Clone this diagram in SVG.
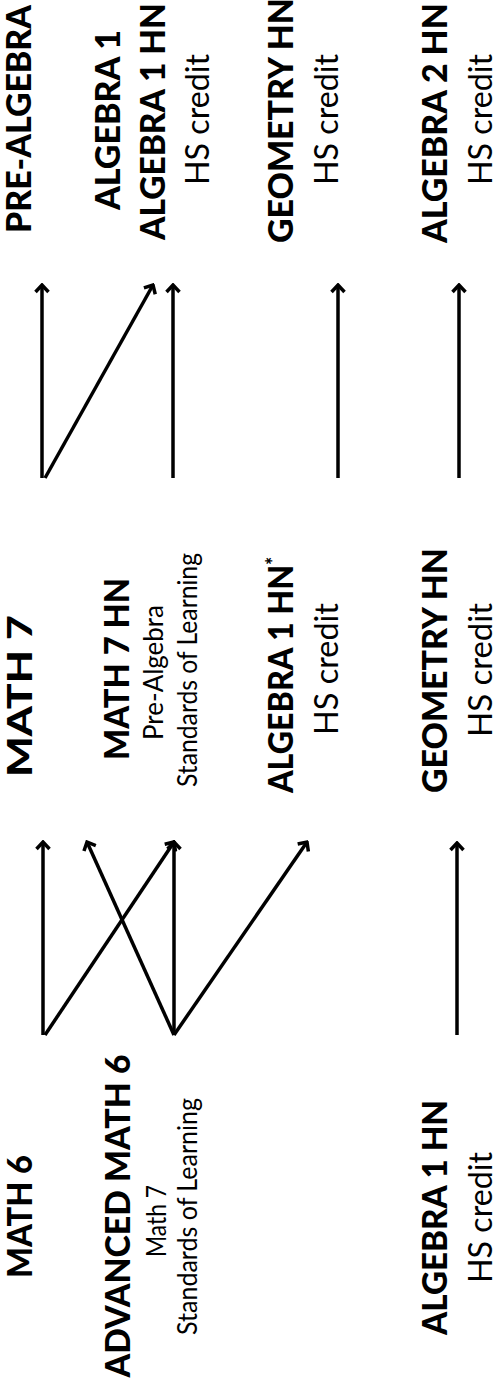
<svg xmlns="http://www.w3.org/2000/svg" width="495" height="1384" viewBox="0 0 495 1384">
<style>
text{text-anchor:middle;fill:#000;font-family:Lato,"Liberation Sans",sans-serif}
.t{font-weight:900;font-size:35px}
.s{font-weight:400;font-size:26px}
.h{font-weight:400;font-size:33px}
.c{stroke:#000;stroke-width:3.5;fill:none;marker-end:url(#ah)}
</style>
<defs>
<marker id="ah" markerUnits="userSpaceOnUse" viewBox="-10 -8 12 16" refX="0" refY="0" markerWidth="12" markerHeight="16" orient="auto">
<path d="M-7,-6.5 L0,0 L-7,6.5" fill="none" stroke="#000" stroke-width="3.5" stroke-linecap="butt" stroke-linejoin="miter"/>
</marker>
</defs>
<rect width="495" height="1384" fill="#fff"/>
<g id="math6"><text class="t" transform="translate(32,1216.5) rotate(-90)" textLength="123" lengthAdjust="spacingAndGlyphs">MATH 6</text></g>
<g id="advmath6">
<text class="t" transform="translate(130,1216) rotate(-90)" textLength="323" lengthAdjust="spacingAndGlyphs">ADVANCED MATH 6</text>
<text class="s" transform="translate(166,1221) rotate(-90)" textLength="72" lengthAdjust="spacingAndGlyphs">Math 7</text>
<text class="s" transform="translate(197,1216.5) rotate(-90)" textLength="237" lengthAdjust="spacingAndGlyphs">Standards of Learning</text>
</g>
<g id="alg1hn6">
<text class="t" transform="translate(447,1217.5) rotate(-90)" textLength="235" lengthAdjust="spacingAndGlyphs">ALGEBRA 1 HN</text>
<text class="h" transform="translate(492,1217.5) rotate(-90)" textLength="131" lengthAdjust="spacingAndGlyphs">HS credit</text>
</g>
<g id="math7"><text class="t" transform="translate(32,696) rotate(-90)" textLength="162" lengthAdjust="spacingAndGlyphs">MATH 7</text></g>
<g id="math7hn">
<text class="t" transform="translate(129,669) rotate(-90)" textLength="182" lengthAdjust="spacingAndGlyphs">MATH 7 HN</text>
<text class="s" transform="translate(163,672.5) rotate(-90)" textLength="135" lengthAdjust="spacingAndGlyphs">Pre-Algebra</text>
<text class="s" transform="translate(197,670) rotate(-90)" textLength="234" lengthAdjust="spacingAndGlyphs">Standards of Learning</text>
</g>
<g id="alg1hn7">
<text class="t" transform="translate(293,675) rotate(-90)" textLength="236" lengthAdjust="spacingAndGlyphs">ALGEBRA 1 HN<tspan font-size="20" dy="-12">*</tspan></text>
<text class="h" transform="translate(338,669) rotate(-90)" textLength="132" lengthAdjust="spacingAndGlyphs">HS credit</text>
</g>
<g id="geomhn7">
<text class="t" transform="translate(447,670.5) rotate(-90)" textLength="245" lengthAdjust="spacingAndGlyphs">GEOMETRY HN</text>
<text class="h" transform="translate(492,670) rotate(-90)" textLength="134" lengthAdjust="spacingAndGlyphs">HS credit</text>
</g>
<g id="prealg"><text class="t" transform="translate(31,119) rotate(-90)" textLength="228" lengthAdjust="spacingAndGlyphs">PRE-ALGEBRA</text></g>
<g id="alg1">
<text class="t" transform="translate(120,120) rotate(-90)" textLength="180" lengthAdjust="spacingAndGlyphs">ALGEBRA 1</text>
<text class="t" transform="translate(165,121.5) rotate(-90)" textLength="237" lengthAdjust="spacingAndGlyphs">ALGEBRA 1 HN</text>
<text class="h" transform="translate(209,119.5) rotate(-90)" textLength="131" lengthAdjust="spacingAndGlyphs">HS credit</text>
</g>
<g id="geomhn8">
<text class="t" transform="translate(293,120.5) rotate(-90)" textLength="245" lengthAdjust="spacingAndGlyphs">GEOMETRY HN</text>
<text class="h" transform="translate(338,119.5) rotate(-90)" textLength="131" lengthAdjust="spacingAndGlyphs">HS credit</text>
</g>
<g id="alg2hn8">
<text class="t" transform="translate(447,123) rotate(-90)" textLength="240" lengthAdjust="spacingAndGlyphs">ALGEBRA 2 HN</text>
<text class="h" transform="translate(492,119.5) rotate(-90)" textLength="131" lengthAdjust="spacingAndGlyphs">HS credit</text>
</g>
<g id="connectors">
<line class="c" x1="42" y1="478" x2="42" y2="285"/>
<line class="c" x1="45" y1="478" x2="153" y2="285"/>
<line class="c" x1="173" y1="478" x2="173" y2="285"/>
<line class="c" x1="338" y1="478" x2="338" y2="285"/>
<line class="c" x1="459" y1="478" x2="459" y2="285"/>
<line class="c" x1="43" y1="1035" x2="43" y2="842"/>
<line class="c" x1="45" y1="1035" x2="174" y2="842"/>
<line class="c" x1="174" y1="1035" x2="87" y2="842"/>
<line class="c" x1="174" y1="1035" x2="174" y2="842"/>
<line class="c" x1="174" y1="1035" x2="307" y2="842"/>
<line class="c" x1="457" y1="1035" x2="457" y2="843"/>
</g>
</svg>
